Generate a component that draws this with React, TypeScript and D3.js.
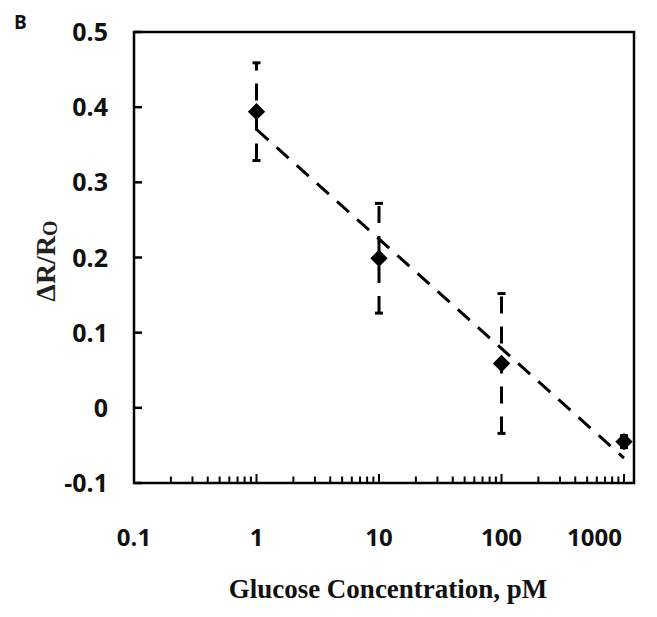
import React from "react";
import * as d3 from "d3";

const concentrations = [1, 10, 100, 1000];
const deltaR = [0.394, 0.199, 0.059, -0.045];
const errors = [0.065, 0.073, 0.093, 0.008];
const xTicks = [0.1, 1, 10, 100, 1000];
const xTickLabels = ["0.1", "1", "10", "100", "1000"];
const yTicks = [-0.1, 0, 0.1, 0.2, 0.3, 0.4, 0.5];
const yTickLabels = ["-0.1", "0", "0.1", "0.2", "0.3", "0.4", "0.5"];

const W = 657;
const H = 617;
const left = 134;
const top = 32;
const bottom = 483;
const x1000 = 624;
const right = 634;

export default function App() {
  const x = d3.scaleLog().domain([0.1, 1000]).range([left, x1000]);
  const y = d3.scaleLinear().domain([-0.1, 0.5]).range([bottom, top]);

  // least squares trend on log10(x)
  const lx = concentrations.map((c) => Math.log10(c));
  const mx = d3.mean(lx) as number;
  const my = d3.mean(deltaR) as number;
  const slope =
    (d3.sum(lx.map((v, i) => (v - mx) * (deltaR[i] - my))) as number) /
    (d3.sum(lx.map((v) => (v - mx) * (v - mx))) as number);
  const intercept = my - slope * mx;
  const trendX = [1, 1000];
  const line = d3
    .line<number>()
    .x((c) => x(c))
    .y((c) => y(intercept + slope * Math.log10(c)));

  const minor: number[] = [];
  for (let e = -1; e < 3; e++) {
    for (let m = 2; m <= 9; m++) minor.push(m * Math.pow(10, e));
  }

  const diamond = d3.symbol().type(d3.symbolSquare).size(150)() as string;
  const sans = "'Open Sans', 'Noto Sans', sans-serif";
  const serif = "'Liberation Serif', 'DejaVu Serif', serif";

  return (
    <svg
      width={W}
      height={H}
      style={{ position: "absolute", left: 0, top: 0, background: "#fff" }}
    >
      <rect width={W} height={H} fill="#fff" />
      <text x={14} y={29} fontFamily={sans} fontWeight={700} fontSize={19} fill="#111">
        B
      </text>

      {/* y ticks */}
      {yTicks.map((t, i) => (
        <g key={"yt" + i}>
          <line x1={left} x2={left + 8} y1={y(t)} y2={y(t)} stroke="#000" strokeWidth={2.5} />
          <text
            x={108}
            y={y(t)}
            dy="0.36em"
            textAnchor="end"
            fontFamily={sans}
            fontWeight={700}
            fontSize={25}
            fill="#111"
          >
            {yTickLabels[i]}
          </text>
        </g>
      ))}

      {/* x ticks */}
      {minor.map((t, i) => (
        <line key={"mn" + i} x1={x(t)} x2={x(t)} y1={bottom} y2={bottom - 6.5} stroke="#000" strokeWidth={2} />
      ))}
      {xTicks.map((t, i) => {
        const last = i === xTicks.length - 1;
        return (
          <g key={"xt" + i}>
            <line x1={x(t)} x2={x(t)} y1={bottom} y2={bottom - 9} stroke="#000" strokeWidth={2} />
            <text
              x={last ? x(t) - 2 : x(t)}
              y={546}
              textAnchor={last ? "end" : "middle"}
              fontFamily={sans}
              fontWeight={700}
              fontSize={24}
              fill="#111"
            >
              {xTickLabels[i]}
            </text>
          </g>
        );
      })}

      {/* frame */}
      <rect
        x={left}
        y={top}
        width={right - left}
        height={bottom - top}
        fill="none"
        stroke="#000"
        strokeWidth={2.5}
      />

      {/* error bars */}
      {concentrations.map((c, i) => {
        const cx = x(c);
        const yt = y(deltaR[i] + errors[i]);
        const yb = y(deltaR[i] - errors[i]);
        return (
          <g key={"eb" + i}>
            <line x1={cx} x2={cx} y1={yb} y2={yt} stroke="#000" strokeWidth={3} strokeDasharray="17,13" />
            <line x1={cx - 4} x2={cx + 4} y1={yt} y2={yt} stroke="#000" strokeWidth={3} />
            <line x1={cx - 4} x2={cx + 4} y1={yb} y2={yb} stroke="#000" strokeWidth={3} />
          </g>
        );
      })}

      {/* diamonds */}
      {concentrations.map((c, i) => (
        <path
          key={"pt" + i}
          d={diamond}
          transform={`translate(${x(c)},${y(deltaR[i])}) rotate(45)`}
          fill="#000"
        />
      ))}

      {/* trend line */}
      <path
        d={line(trendX) as string}
        fill="none"
        stroke="#000"
        strokeWidth={3}
        strokeDasharray="16,11"
      />

      {/* axis titles */}
      <text
        x={388}
        y={598}
        textAnchor="middle"
        fontFamily={serif}
        fontWeight={700}
        fontSize={27}
        fill="#111"
      >
        Glucose Concentration, pM
      </text>
      <text
        transform={`translate(55,${261}) rotate(-90)`}
        textAnchor="middle"
        fontFamily={serif}
        fontWeight={700}
        fontSize={28}
        fill="#222"
      >
        ΔR/R
        <tspan fontSize={20} dy={2}>
          O
        </tspan>
      </text>
    </svg>
  );
}
